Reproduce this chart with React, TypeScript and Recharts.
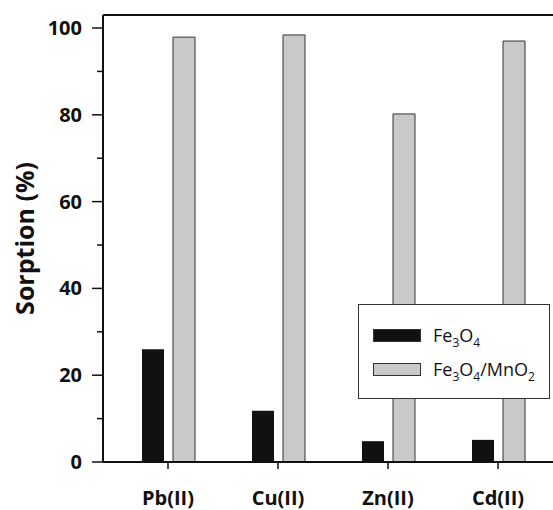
import { BarChart, Bar, XAxis, YAxis, ReferenceLine } from 'recharts'

const categories = ['Pb(II)', 'Cu(II)', 'Zn(II)', 'Cd(II)']
const fe3o4 = [26.0, 11.8, 4.8, 5.1]
const fe3o4MnO2 = [97.9, 98.4, 80.2, 97.0]
const yTicks = [0, 10, 20, 30, 40, 50, 60, 70, 80, 90, 100]

const data = categories.map((c, i) => ({ name: c, fe3o4: fe3o4[i], composite: fe3o4MnO2[i] }))

const font = '"Open Sans", sans-serif'

// custom y tick: long tick + label on multiples of 20, short tick otherwise
function YTick(props: any) {
  const { x, y, payload } = props
  const axisX = x + 21
  const major = payload.value % 20 === 0
  return (
    <g>
      <line x1={axisX} x2={axisX - (major ? 11 : 6)} y1={y} y2={y} stroke="#111" strokeWidth={1.5} />
      {major && (
        <text x={x} y={y} dy={7} textAnchor="end" fontSize={20} fontWeight={700} fill="#111" fontFamily={font}>
          {payload.value}
        </text>
      )}
    </g>
  )
}

// x labels placed by baseline
function XTick(props: any) {
  const { x, y, payload } = props
  return (
    <text x={x} y={y} dy={36} textAnchor="middle" fontSize={20} fontWeight={700} fill="#111" fontFamily={font}>
      {payload.value}
    </text>
  )
}

function LegendBox() {
  const row = { display: 'flex', alignItems: 'center', height: 34 }
  const sw = (bg: string) => ({ width: 46, height: 11, background: bg, border: '1px solid #333', marginRight: 12 })
  const txt = { fontSize: 18, fontWeight: 400, color: '#111', fontFamily: font, lineHeight: '18px' }
  const sub = { fontSize: 12, verticalAlign: '-5px', lineHeight: 0 }
  return (
    <div style={{ position: 'absolute', left: 358, top: 304, width: 192, height: 95, border: '1px solid #333',
      background: '#fff', boxSizing: 'border-box', padding: '13px 0 0 14px' }}>
      <div style={row}>
        <div style={sw('#111')} />
        <span style={txt}>Fe<span style={sub}>3</span>O<span style={sub}>4</span></span>
      </div>
      <div style={row}>
        <div style={sw('#c9c9c9')} />
        <span style={txt}>Fe<span style={sub}>3</span>O<span style={sub}>4</span>/MnO<span style={sub}>2</span></span>
      </div>
    </div>
  )
}

export default function App() {
  return (
    <div style={{ width: 553, height: 510, position: 'absolute', left: 0, top: 0, overflow: 'hidden', background: '#fff', fontFamily: font }}>
      <BarChart width={558} height={510} data={data} margin={{ top: 15, right: 0, bottom: 0, left: 0 }}
        barSize={22} barGap={9}>
        <XAxis dataKey="name" padding={{ left: 10, right: 5 }} height={48}
          axisLine={{ stroke: '#111', strokeWidth: 2 }} tickLine={{ stroke: '#111', strokeWidth: 1.5 }}
          tickSize={7} tickMargin={0} tick={<XTick />} />
        <YAxis type="number" domain={[0, 103]} ticks={yTicks} width={103} interval={0}
          axisLine={{ stroke: '#111', strokeWidth: 2 }} tickLine={false} tickSize={11} tickMargin={10}
          tick={<YTick />}
          label={{ value: 'Sorption (%)', angle: -90, position: 'insideLeft', dx: 20, dy: 0,
            style: { fontSize: 25, fontWeight: 700, fill: '#111', fontFamily: font, textAnchor: 'middle' } }} />
        <ReferenceLine y={103} stroke="#111" strokeWidth={2} />
        <Bar dataKey="fe3o4" name="Fe3O4" fill="#111" isAnimationActive={false} />
        <Bar dataKey="composite" name="Fe3O4/MnO2" fill="#c9c9c9" stroke="#333" strokeWidth={1} isAnimationActive={false} />
      </BarChart>
      <LegendBox />
    </div>
  )
}
